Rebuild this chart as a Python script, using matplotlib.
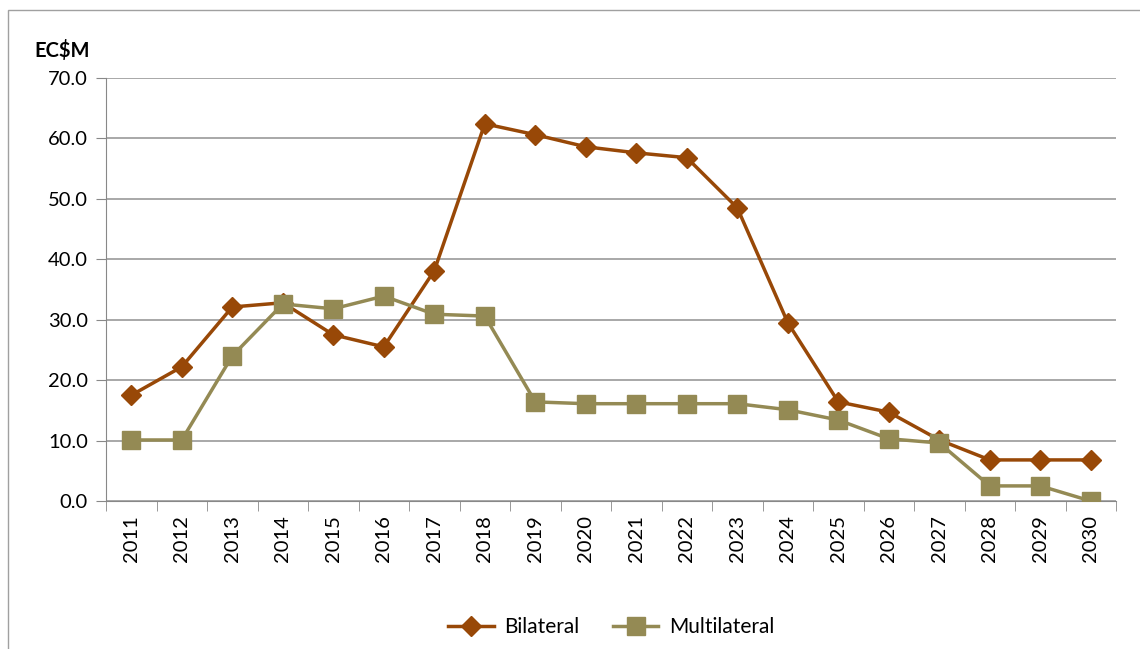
import matplotlib.pyplot as plt
from matplotlib.patches import Rectangle

plt.rcParams['font.family'] = ['Lato', 'DejaVu Sans']

years = [str(y) for y in range(2011, 2031)]
bilateral = [17.5, 22.2, 32.1, 32.8, 27.5, 25.5, 38.1, 62.4, 60.6, 58.6,
             57.6, 56.8, 48.5, 29.5, 16.4, 14.7, 10.1, 6.8, 6.8, 6.8]
multilateral = [10.1, 10.1, 24.0, 32.6, 31.8, 33.9, 30.9, 30.6, 16.4, 16.1,
                16.1, 16.1, 16.1, 15.1, 13.4, 10.3, 9.6, 2.5, 2.5, 0.0]

fig = plt.figure(figsize=(11.4, 6.49), dpi=100)
ax = fig.add_axes([0.093, 0.228, 0.886, 0.652])

# outer frame (top and left edges visible)
fig.patches.append(Rectangle((0.007, -0.1), 1.2, 1.085, transform=fig.transFigure,
                             fill=False, edgecolor='#a0a0a0', linewidth=1))

x = range(len(years))
ax.plot(x, bilateral, color='#984807', linewidth=2.5, marker='D', markersize=10,
        label='Bilateral', zorder=3)
ax.plot(x, multilateral, color='#948A54', linewidth=2.5, marker='s', markersize=13,
        label='Multilateral', zorder=3)

ax.set_xlim(-0.5, len(years) - 0.5)
ax.set_ylim(0, 70)
ax.set_yticks(range(0, 71, 10))
ax.set_yticklabels([f'{v:.1f}' for v in range(0, 71, 10)], fontsize=14.5)
ax.set_xticks(list(x))
ax.set_xticklabels(years, rotation=90, fontsize=14.5)
ax.set_xticks([i + 0.5 for i in range(-1, len(years))], minor=True)
ax.tick_params(axis='x', which='major', length=0, pad=10)
ax.tick_params(axis='x', which='minor', length=7, color='#888888')
ax.tick_params(axis='y', length=7, color='#888888', pad=6)
ax.grid(axis='y', color='#999999', linewidth=1.2)
ax.set_axisbelow(True)
for s in ['top', 'right']:
    ax.spines[s].set_visible(False)
for s in ['left', 'bottom']:
    ax.spines[s].set_color('#888888')

fig.text(0.03, 0.912, 'EC$M', fontsize=14.5, fontweight='bold')

ax.legend(loc='upper center', bbox_to_anchor=(0.5, -0.23), ncol=2, frameon=False,
          fontsize=15, handlelength=2.2, handletextpad=0.5, columnspacing=1.6)

plt.savefig('out.png', dpi=100)
